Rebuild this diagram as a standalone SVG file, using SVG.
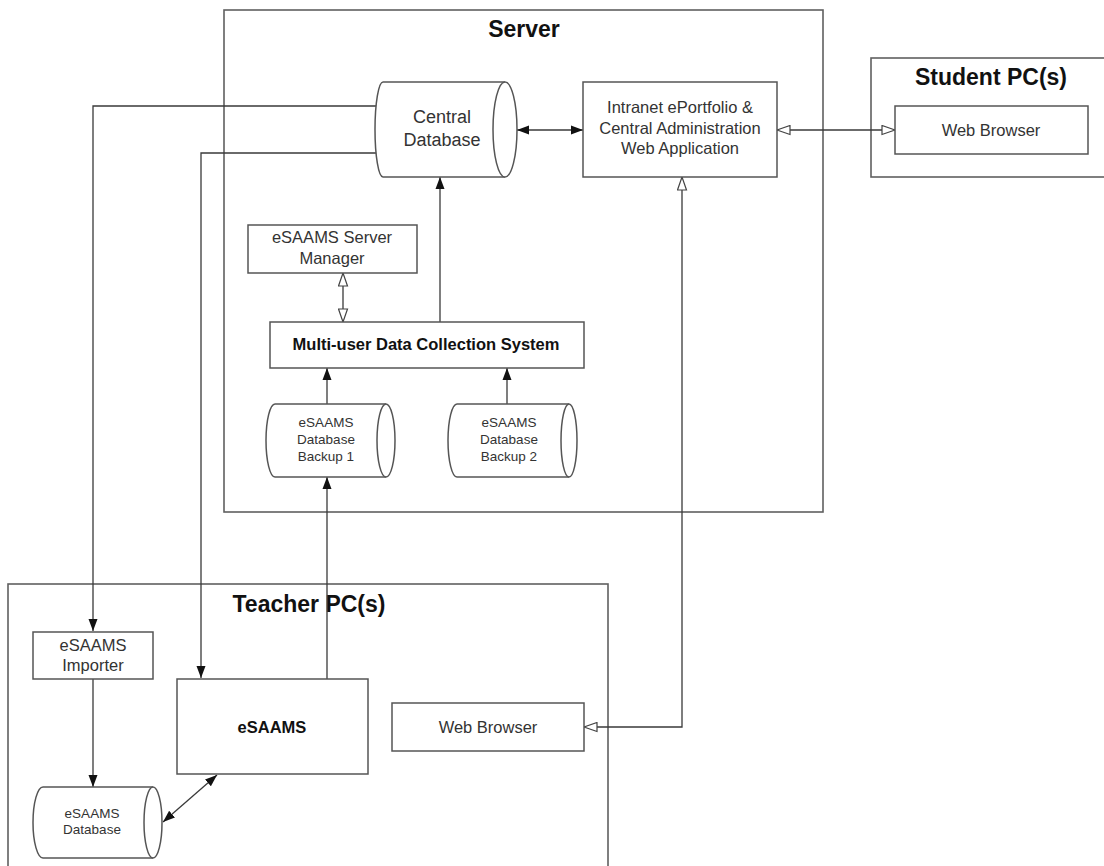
<svg xmlns="http://www.w3.org/2000/svg" width="1104" height="866" viewBox="0 0 1104 866">
<defs>
<style>
.box{fill:#fff;stroke:#555;stroke-width:1.5}
.grp{fill:none;stroke:#606060;stroke-width:1.6}
.ln{fill:none;stroke:#3a3a3a;stroke-width:1.3}
.t{font-family:"Liberation Sans",Arial,sans-serif;fill:#333;text-anchor:middle}
.title{font-family:"Liberation Sans",Arial,sans-serif;font-weight:bold;font-size:23px;fill:#111;text-anchor:middle}
</style>
<marker id="fa" viewBox="0 0 12 10" refX="12" refY="5" markerWidth="12" markerHeight="10" markerUnits="userSpaceOnUse" orient="auto-start-reverse">
<path d="M0,0.5 L12,5 L0,9.5 Z" fill="#111"/>
</marker>
<marker id="oa" viewBox="0 0 15 11" refX="14" refY="5.5" markerWidth="15" markerHeight="11" markerUnits="userSpaceOnUse" orient="auto-start-reverse">
<path d="M1,1 L14,5.5 L1,10 Z" fill="#fff" stroke="#444" stroke-width="1.2"/>
</marker>
</defs>
<rect width="1104" height="866" fill="#fff"/>

<g id="server-group">
<rect class="grp" x="224" y="10" width="599" height="502"/>
<text class="title" x="524" y="37">Server</text>
</g>
<g id="student-group">
<rect class="grp" x="871" y="58" width="250" height="119"/>
<text class="title" x="991" y="85">Student PC(s)</text>
</g>
<g id="teacher-group">
<rect class="grp" x="8" y="584" width="600" height="300"/>
<text class="title" x="309" y="612">Teacher PC(s)</text>
</g>

<g id="connectors">
<path class="ln" d="M377,106 H93 V631" marker-end="url(#fa)"/>
<path class="ln" d="M377,153 H201 V678" marker-end="url(#fa)"/>
<path class="ln" d="M517,130 H583" marker-start="url(#fa)" marker-end="url(#fa)"/>
<path class="ln" d="M777,130 H895" marker-start="url(#oa)" marker-end="url(#oa)"/>
<path class="ln" d="M682,177 V727 H584" marker-start="url(#oa)" marker-end="url(#oa)"/>
<path class="ln" d="M440,322 V177" marker-end="url(#fa)"/>
<path class="ln" d="M343,273 V322" marker-start="url(#oa)" marker-end="url(#oa)"/>
<path class="ln" d="M327,404 V368" marker-end="url(#fa)"/>
<path class="ln" d="M507,404 V368" marker-end="url(#fa)"/>
<path class="ln" d="M327,679 V477" marker-end="url(#fa)"/>
<path class="ln" d="M93,679 V787" marker-end="url(#fa)"/>
<path class="ln" d="M217,775 L163,822" marker-start="url(#fa)" marker-end="url(#fa)"/>
</g>

<g id="central-database">
<path class="box" d="M383,82 H505 A12,47.5 0 0 1 505,177 H383 A8,47.5 0 0 1 383,82 Z"/>
<path class="box" d="M505,177 A12,47.5 0 0 1 505,82" fill="none"/>
<text class="t" font-size="18" x="442" y="123">Central</text>
<text class="t" font-size="18" x="442" y="146">Database</text>
</g>

<g id="intranet-app">
<rect class="box" x="583" y="82" width="194" height="95"/>
<text class="t" font-size="16.5" x="680" y="113">Intranet ePortfolio &amp;</text>
<text class="t" font-size="16.5" x="680" y="134">Central Administration</text>
<text class="t" font-size="16.5" x="680" y="154">Web Application</text>
</g>

<g id="student-web-browser">
<rect class="box" x="895" y="106" width="193" height="48"/>
<text class="t" font-size="16.5" x="991" y="136">Web Browser</text>
</g>

<g id="server-manager">
<rect class="box" x="248" y="225" width="169" height="48"/>
<text class="t" font-size="16.5" x="332" y="243">eSAAMS Server</text>
<text class="t" font-size="16.5" x="332" y="264">Manager</text>
</g>

<g id="multi-user">
<rect class="box" x="270" y="322" width="314" height="46"/>
<text class="t" font-size="16.5" font-weight="bold" x="426" y="350" style="fill:#111">Multi-user Data Collection System</text>
</g>

<g id="backup-1">
<path class="box" d="M275,404 H386 A9,36.5 0 0 1 386,477 H275 A9,36.5 0 0 1 275,404 Z"/>
<path class="box" d="M386,477 A9,36.5 0 0 1 386,404" fill="none"/>
<text class="t" font-size="13.5" x="326" y="427">eSAAMS</text>
<text class="t" font-size="13.5" x="326" y="444">Database</text>
<text class="t" font-size="13.5" x="326" y="461">Backup 1</text>
</g>

<g id="backup-2">
<path class="box" d="M457,404 H569 A8,36.5 0 0 1 569,477 H457 A9,36.5 0 0 1 457,404 Z"/>
<path class="box" d="M569,477 A8,36.5 0 0 1 569,404" fill="none"/>
<text class="t" font-size="13.5" x="509" y="427">eSAAMS</text>
<text class="t" font-size="13.5" x="509" y="444">Database</text>
<text class="t" font-size="13.5" x="509" y="461">Backup 2</text>
</g>

<g id="importer">
<rect class="box" x="33" y="632" width="120" height="47"/>
<text class="t" font-size="16.5" x="93" y="651">eSAAMS</text>
<text class="t" font-size="16.5" x="93" y="671">Importer</text>
</g>

<g id="esaams">
<rect class="box" x="177" y="679" width="191" height="95"/>
<text class="t" font-size="16.5" font-weight="bold" x="272" y="733" style="fill:#111">eSAAMS</text>
</g>

<g id="teacher-web-browser">
<rect class="box" x="392" y="703" width="192" height="48"/>
<text class="t" font-size="16.5" x="488" y="733">Web Browser</text>
</g>

<g id="esaams-database">
<path class="box" d="M43,787 H153 A9,35.5 0 0 1 153,858 H43 A10,35.5 0 0 1 43,787 Z"/>
<path class="box" d="M153,858 A9,35.5 0 0 1 153,787" fill="none"/>
<text class="t" font-size="13.5" x="92" y="818">eSAAMS</text>
<text class="t" font-size="13.5" x="92" y="834">Database</text>
</g>
</svg>
